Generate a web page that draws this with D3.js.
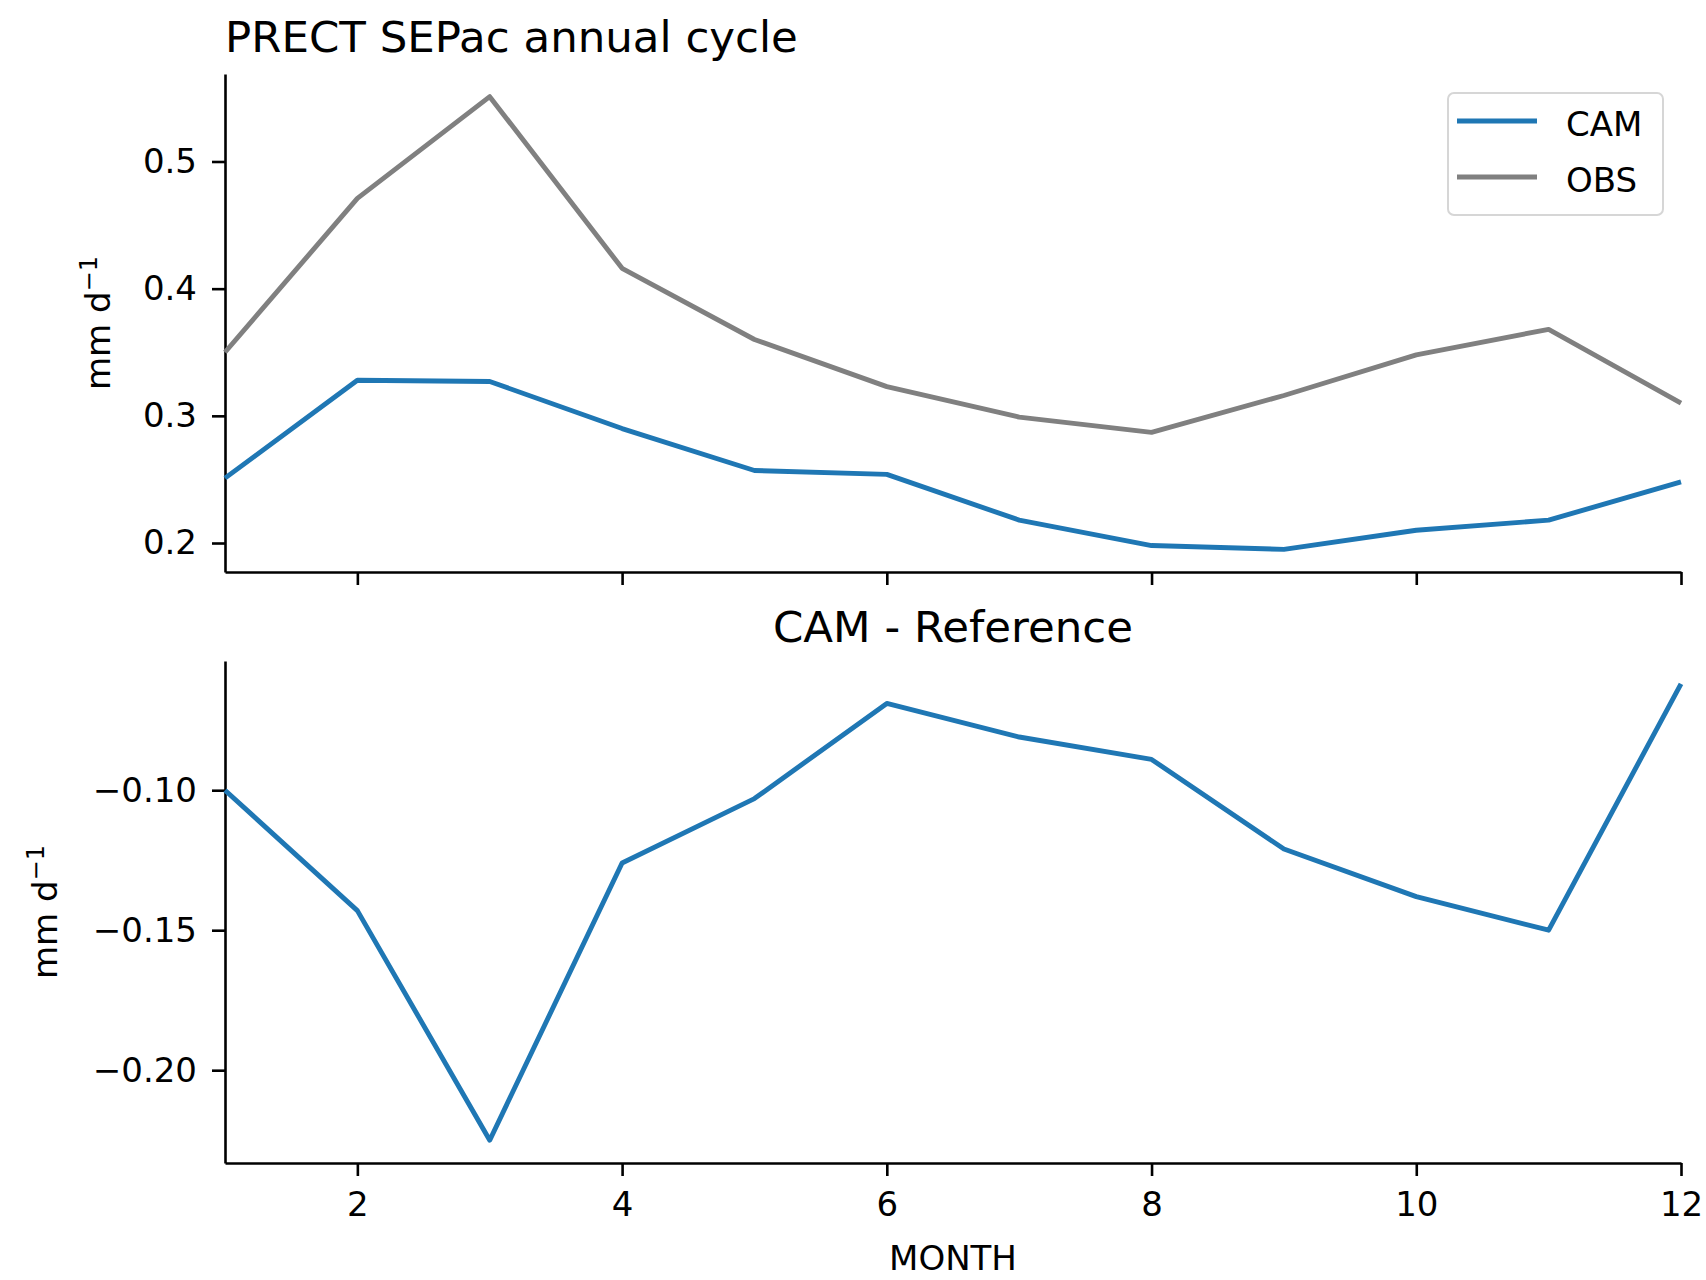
<!DOCTYPE html>
<html>
<head>
<meta charset="utf-8">
<script src="https://cdn.jsdelivr.net/npm/d3@7"></script>
<style>
    body { margin: 0; background: #fff; }
    svg text { font-family: "DejaVu Sans", sans-serif; fill: #000; }
</style>
</head>
<body>
<svg id="chart" width="1706" height="1280"></svg>
<script>
// monthly values
var months = [1, 2, 3, 4, 5, 6, 7, 8, 9, 10, 11, 12];
var camPrect = [0.251, 0.328, 0.327, 0.290, 0.257, 0.254, 0.218, 0.198, 0.195, 0.210, 0.218, 0.248];
var obsPrect = [0.350, 0.471, 0.551, 0.416, 0.360, 0.323, 0.299, 0.287, 0.316, 0.348, 0.368, 0.310];
var camMinusRef = [-0.100, -0.143, -0.225, -0.126, -0.103, -0.069, -0.081, -0.089, -0.121, -0.138, -0.150, -0.062];

var xTicks = [2, 4, 6, 8, 10, 12];
var topTicks = [0.2, 0.3, 0.4, 0.5];
var bottomTicks = [-0.20, -0.15, -0.10];
var seriesNames = ["CAM", "OBS"];
var seriesColors = ["#1f77b4", "#808080"];

var svg = d3.select('#chart');

/** Layout of the two stacked axes (pixels) */
var plot = {
    "left": 225,
    "right": 1681,
    "tick": 13,
    "pad": 15,
    "font": 34,
    "titleFont": 43.5,
    "line": 4.9,
    "spine": 2.6
};
var topBox = {"top": 74, "bottom": 572};
var bottomBox = {"top": 661, "bottom": 1163};

var x = d3.scaleLinear()
    .domain([1, 12])
    .range([plot.left, plot.right]);

// matplotlib style 5% margin on the y data range
function paddedDomain(values) {
    var ext = d3.extent(values);
    var m = (ext[1] - ext[0]) * 0.05;
    return [ext[0] - m, ext[1] + m];
}

var yTop = d3.scaleLinear()
    .domain(paddedDomain(camPrect.concat(obsPrect)))
    .range([topBox.bottom, topBox.top]);

var yBottom = d3.scaleLinear()
    .domain(paddedDomain(camMinusRef))
    .range([bottomBox.bottom, bottomBox.top]);

function styleAxis(g) {
    g.select('.domain').attr('stroke', '#000').attr('stroke-width', plot.spine);
    g.selectAll('.tick line').attr('stroke', '#000').attr('stroke-width', plot.spine);
    g.selectAll('.tick text').style('font-size', plot.font + 'px');
}

function drawAxes(y, box, ticks, fmt, showXLabels) {
    var xAxis = d3.axisBottom(x)
        .tickValues(xTicks)
        .tickSize(plot.tick)
        .tickPadding(16)
        .tickSizeOuter(0)
        .tickFormat(showXLabels ? d3.format('d') : '');
    svg.append('g')
        .attr('transform', 'translate(0,' + box.bottom + ')')
        .call(xAxis)
        .call(styleAxis);

    var yAxis = d3.axisLeft(y)
        .tickValues(ticks)
        .tickSize(plot.tick)
        .tickPadding(plot.pad)
        .tickSizeOuter(0)
        .tickFormat(d3.format(fmt));
    svg.append('g')
        .attr('transform', 'translate(' + plot.left + ',0)')
        .call(yAxis)
        .call(styleAxis);
}

function drawLine(values, y, color) {
    var line = d3.line()
        .x((d, i) => x(months[i]))
        .y(d => y(d));
    svg.append('path')
        .datum(values)
        .attr('d', line)
        .attr('fill', 'none')
        .attr('stroke', color)
        .attr('stroke-width', plot.line)
        .attr('stroke-linejoin', 'round');
}

function yLabel(xPos, yPos) {
    var t = svg.append('text')
        .attr('transform', 'translate(' + xPos + ',' + yPos + ') rotate(-90)')
        .attr('text-anchor', 'middle')
        .style('font-size', plot.font + 'px');
    t.append('tspan').text('mm d');
    t.append('tspan')
        .attr('dy', -13)
        .style('font-size', '24px')
        .text('\u22121');
}

// ---- top panel: annual cycle ----
drawAxes(yTop, topBox, topTicks, '.1f', false);
drawLine(camPrect, yTop, seriesColors[0]);
drawLine(obsPrect, yTop, seriesColors[1]);

svg.append('text')
    .attr('x', plot.left)
    .attr('y', 52)
    .style('font-size', plot.titleFont + 'px')
    .text('PRECT SEPac annual cycle');

yLabel(110, (topBox.top + topBox.bottom) / 2);

// legend
var legend = svg.append('g').attr('transform', 'translate(1448,93)');
legend.append('rect')
    .attr('width', 215)
    .attr('height', 122)
    .attr('rx', 6)
    .attr('fill', '#fff')
    .attr('fill-opacity', 0.8)
    .attr('stroke', '#d6d6d6')
    .attr('stroke-width', 2);
seriesNames.forEach(function (name, i) {
    var yy = 28 + i * 56;
    legend.append('line')
        .attr('x1', 9).attr('x2', 89)
        .attr('y1', yy).attr('y2', yy)
        .attr('stroke', seriesColors[i])
        .attr('stroke-width', plot.line);
    legend.append('text')
        .attr('x', 118)
        .attr('y', yy + 15)
        .style('font-size', plot.font + 'px')
        .text(name);
});

// ---- bottom panel: difference ----
drawAxes(yBottom, bottomBox, bottomTicks, '.2f', true);
drawLine(camMinusRef, yBottom, seriesColors[0]);

svg.append('text')
    .attr('x', (plot.left + plot.right) / 2)
    .attr('y', 642)
    .attr('text-anchor', 'middle')
    .style('font-size', plot.titleFont + 'px')
    .text('CAM - Reference');

yLabel(57, (bottomBox.top + bottomBox.bottom) / 2);

svg.append('text')
    .attr('x', (plot.left + plot.right) / 2)
    .attr('y', 1270)
    .attr('text-anchor', 'middle')
    .style('font-size', plot.font + 'px')
    .text('MONTH');
</script>
</body>
</html>
